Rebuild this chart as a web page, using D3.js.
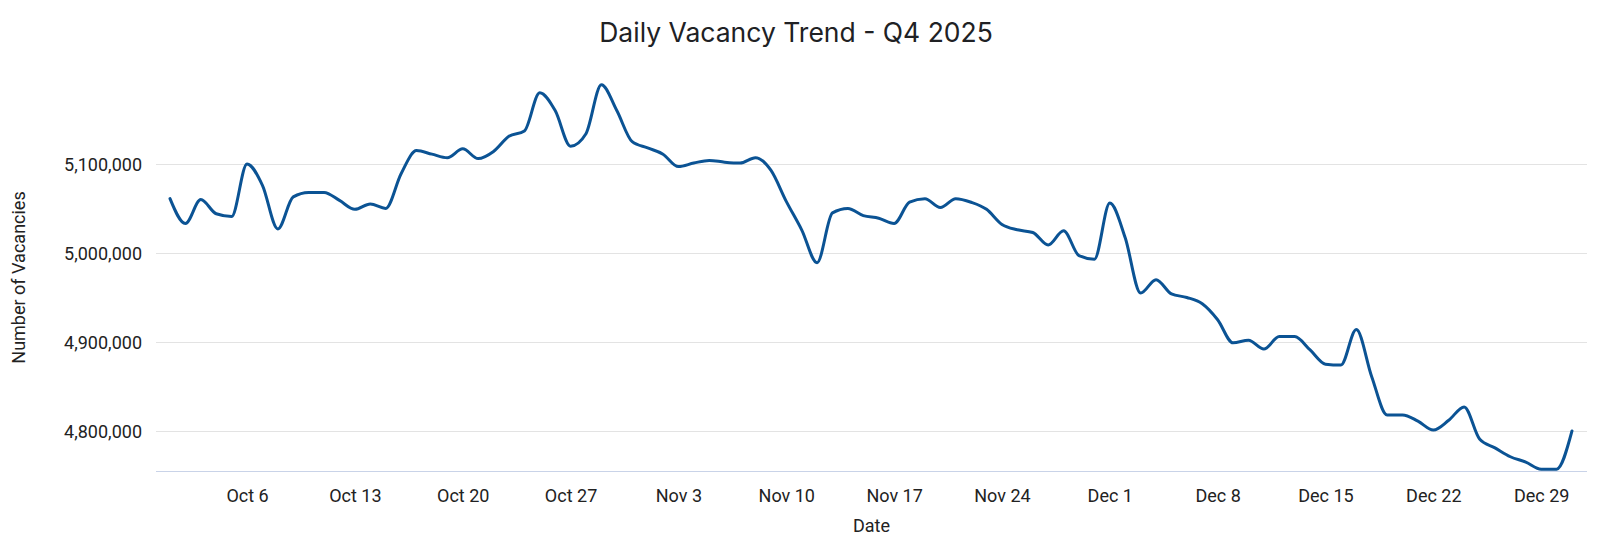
<!DOCTYPE html>
<html>
<head>
<meta charset="utf-8">
<script src="https://cdn.jsdelivr.net/npm/d3@7/dist/d3.min.js"></script>
<style>
  html, body { margin: 0; padding: 0; background: #fff; }
  svg { display: block; }
</style>
</head>
<body>
<svg id="chart" width="1600" height="552"></svg>
<script>
// ---- Data ----
const startDate = "2025-10-01";
const vacancies = [
  5061000, 5033000, 5060000, 5044000, 5041000, 5100000, 5076000, 5027000, 5063000, 5068000,
  5068000, 5059000, 5049000, 5055000, 5050000, 5089000, 5115000, 5111000, 5107000, 5117000,
  5106000, 5114000, 5131000, 5137000, 5180000, 5160000, 5120000, 5134000, 5189000, 5160000,
  5125000, 5118000, 5111000, 5097000, 5101000, 5104000, 5102000, 5101000, 5107000, 5093000,
  5058000, 5026000, 4989000, 5045000, 5050000, 5042000, 5039000, 5033000, 5057000, 5061000,
  5051000, 5061000, 5057000, 5049000, 5032000, 5026000, 5023000, 5009000, 5025000, 4997000,
  4993000, 5056000, 5017000, 4955000, 4970000, 4954000, 4950000, 4943000, 4925000, 4899000,
  4902000, 4892000, 4906000, 4906000, 4891000, 4875000, 4874000, 4914000, 4861000, 4818000,
  4818000, 4811000, 4801000, 4812000, 4827000, 4791000, 4781000, 4771000, 4765000, 4757000,
  4757000, 4800000
];
const yTickValues = [4800000, 4900000, 5000000, 5100000];
const xTickLabels = ["Oct 6","Oct 13","Oct 20","Oct 27","Nov 3","Nov 10","Nov 17","Nov 24","Dec 1","Dec 8","Dec 15","Dec 22","Dec 29"];
const titleText = "Daily Vacancy Trend - Q4 2025";
const xTitle = "Date";
const yTitle = "Number of Vacancies";

// ---- Setup ----
const parse = d3.timeParse("%Y-%m-%d");
const d0 = parse(startDate);
const dates = vacancies.map((v, i) => d3.timeDay.offset(d0, i));
const data = dates.map((d, i) => ({ date: d, value: vacancies[i] }));

const svg = d3.select("#chart");
const plotLeft = 156, plotRight = 1587, plotTop = 84, plotBottom = 471;

const x = d3.scaleTime()
  .domain([dates[0], dates[dates.length - 1]])
  .range([170, 1572]);

const y = d3.scaleLinear()
  .domain([4755000, 5190000])
  .range([plotBottom, plotBottom - (5190000 - 4755000) / 100000 * 89]);

const fmtX = d3.timeFormat("%b %-d");
const xTicks = d3.timeMonday.range(d3.timeDay.offset(dates[0], 1), dates[dates.length - 1])
  .filter(d => xTickLabels.includes(fmtX(d)));

// gridlines
svg.append("g")
  .selectAll("line")
  .data(yTickValues)
  .join("line")
  .attr("x1", plotLeft).attr("x2", plotRight)
  .attr("y1", d => Math.round(y(d)) + 0.5).attr("y2", d => Math.round(y(d)) + 0.5)
  .attr("stroke", "#e3e3e3").attr("stroke-width", 1);

// baseline
svg.append("line")
  .attr("x1", plotLeft).attr("x2", plotRight)
  .attr("y1", plotBottom + 0.5).attr("y2", plotBottom + 0.5)
  .attr("stroke", "#c9d3e8").attr("stroke-width", 1);

// y axis labels
const yAxis = d3.axisLeft(y).tickValues(yTickValues).tickSize(0).tickPadding(0)
  .tickFormat(d3.format(","));
const yg = svg.append("g").attr("transform", `translate(${142},0)`).call(yAxis);
yg.select(".domain").remove();
yg.selectAll("text")
  .attr("font-family", "Roboto, sans-serif")
  .attr("font-size", 18)
  .attr("fill", "#222")
  .attr("dy", "0.34em");

// x axis labels
const xAxis = d3.axisBottom(x).tickValues(xTicks).tickSize(0).tickPadding(0)
  .tickFormat(fmtX);
const xg = svg.append("g").attr("transform", `translate(0,${plotBottom})`).call(xAxis);
xg.select(".domain").remove();
xg.selectAll("text")
  .attr("font-family", "Roboto, sans-serif")
  .attr("font-size", 18)
  .attr("fill", "#222")
  .attr("dy", null)
  .attr("y", 31);

// line
const line = d3.line()
  .x(d => x(d.date))
  .y(d => y(d.value))
  .curve(d3.curveMonotoneX);

svg.append("path")
  .datum(data)
  .attr("fill", "none")
  .attr("stroke", "#0b5394")
  .attr("stroke-width", 3)
  .attr("stroke-linejoin", "round")
  .attr("stroke-linecap", "round")
  .attr("d", line);

// title
svg.append("text")
  .attr("x", 796).attr("y", 42)
  .attr("text-anchor", "middle")
  .attr("font-family", "Inter, 'Open Sans', sans-serif")
  .attr("font-size", 26.5)
  .attr("fill", "#202124")
  .text(titleText);

// axis titles
svg.append("text")
  .attr("x", (plotLeft + plotRight) / 2).attr("y", 532)
  .attr("text-anchor", "middle")
  .attr("font-family", "Roboto, sans-serif")
  .attr("font-size", 18)
  .attr("fill", "#222")
  .text(xTitle);

svg.append("text")
  .attr("transform", `translate(25,${(plotTop + plotBottom) / 2}) rotate(-90)`)
  .attr("text-anchor", "middle")
  .attr("font-family", "Roboto, sans-serif")
  .attr("font-size", 18)
  .attr("fill", "#222")
  .text(yTitle);
</script>
</body>
</html>
